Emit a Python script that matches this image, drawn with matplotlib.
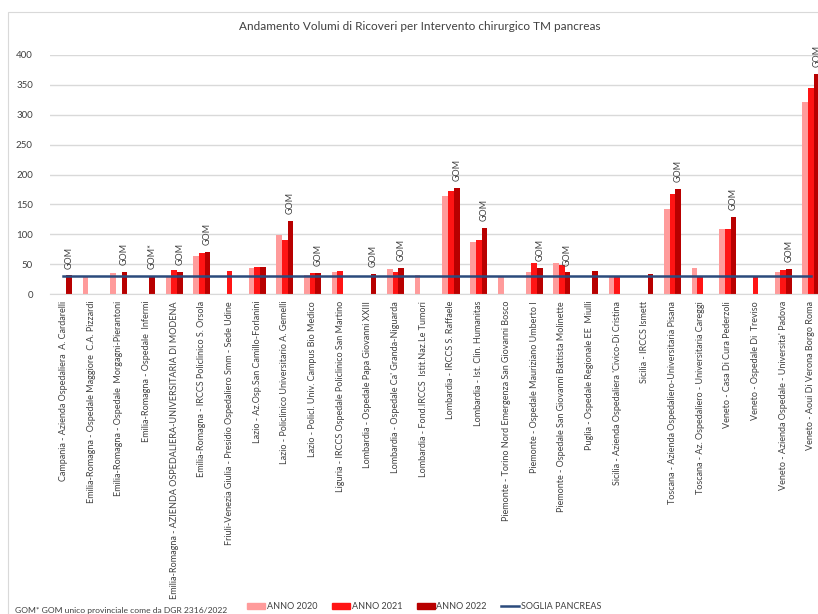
import matplotlib
matplotlib.use("Agg")
import matplotlib.pyplot as plt
import numpy as np
from matplotlib.patches import Rectangle
from matplotlib.lines import Line2D
from matplotlib.patches import Patch

plt.rcParams['font.family'] = ['Lato', 'DejaVu Sans']

title = "Andamento Volumi di Ricoveri per Intervento chirurgico TM pancreas"

categories = [
    "Campania - Azienda Ospedaliera  A. Cardarelli",
    "Emilia-Romagna - Ospedale Maggiore  C.A. Pizzardi",
    "Emilia-Romagna - Ospedale  Morgagni-Pierantoni",
    "Emilia-Romagna - Ospedale  Infermi",
    "Emilia-Romagna - AZIENDA OSPEDALIERA-UNIVERSITARIA DI MODENA",
    "Emilia-Romagna - IRCCS Policlinico S. Orsola",
    "Friuli-Venezia Giulia - Presidio Ospedaliero Smm - Sede Udine",
    "Lazio - Az.Osp.San Camillo-Forlanini",
    "Lazio - Policlinico Universitario A. Gemelli",
    "Lazio - Policl. Univ. Campus Bio Medico",
    "Liguria - IRCCS Ospedale Policlinico San Martino",
    "Lombardia - Ospedale Papa Giovanni XXIII",
    "Lombardia - Ospedale Ca' Granda-Niguarda",
    "Lombardia - Fond.IRCCS  Istit.Naz.Le Tumori",
    "Lombardia - IRCCS S. Raffaele",
    "Lombardia - Ist. Clin. Humanitas",
    "Piemonte - Torino Nord Emergenza San Giovanni Bosco",
    "Piemonte - Ospedale Mauriziano Umberto I",
    "Piemonte - Ospedale San Giovanni Battista Molinette",
    "Puglia - Ospedale Regionale EE  Miulli",
    "Sicilia - Azienda Ospedaliera 'Civico-Di Cristina",
    "Sicilia - IRCCS Ismett",
    "Toscana - Azienda Ospedaliero-Universitaria Pisana",
    "Toscana - Az. Ospedaliero - Universitaria Careggi",
    "Veneto - Casa Di Cura Pederzoli",
    "Veneto - Ospedale Di  Treviso",
    "Veneto - Azienda Ospedale - Universita' Padova",
    "Veneto - Aoui Di Verona Borgo Roma",
]

anno_2020 = [0, 30, 35, 0, 30, 64, 0, 43, 98, 32, 37, 0, 42, 32, 164, 87, 30, 36,
             52, 0, 30, 0, 143, 44, 108, 0, 37, 321]
anno_2021 = [0, 0, 0, 0, 41, 69, 39, 45, 91, 35, 38, 0, 37, 0, 173, 90, 0, 52,
             48, 0, 30, 0, 168, 30, 108, 30, 41, 345]
anno_2022 = [31, 0, 37, 30, 37, 71, 0, 45, 123, 35, 0, 34, 43, 0, 178, 111, 0, 43,
             36, 38, 0, 34, 175, 0, 129, 0, 42, 368]
soglia = 30

gom_labels = ["GOM", "", "GOM", "GOM*", "GOM", "GOM", "", "", "GOM", "GOM", "", "GOM",
              "GOM", "", "GOM", "GOM", "", "GOM", "GOM", "", "", "", "GOM", "",
              "GOM", "", "GOM", "GOM"]

series_names = ["ANNO 2020", "ANNO 2021", "ANNO 2022", "SOGLIA PANCREAS"]
footnote = "GOM* GOM unico provinciale come da DGR 2316/2022"
colors = ["#FF9B9B", "#FF1414", "#B80000"]
line_color = "#2B4A7C"
text_color = "#404040"

fig = plt.figure(figsize=(8.18, 6.14), dpi=100)
W, H = 818, 614

# outer chart frame
fig.patches.append(Rectangle((8 / W, -0.1), 1.2, 1 - 12 / H + 0.1, transform=fig.transFigure,
                             fill=False, edgecolor="#D9D9D9", linewidth=0.8))

ax_left, ax_right = 49.5, 824.8
ax_top, ax_bottom = 55, 294
ax = fig.add_axes([ax_left / W, 1 - ax_bottom / H, (ax_right - ax_left) / W, (ax_bottom - ax_top) / H])

x = np.arange(len(categories))
w = 0.205
for i, (vals, c) in enumerate(zip([anno_2020, anno_2021, anno_2022], colors)):
    ax.bar(x + (i - 1) * w, vals, width=w, color=c, zorder=2)

ax.plot(x, [soglia] * len(x), color=line_color, linewidth=1.8, zorder=3)

for xi, v, lab in zip(x, anno_2022, gom_labels):
    if lab:
        ax.annotate(lab, (xi + w, v), xytext=(0, 5), textcoords="offset points",
                    rotation=90, ha="center", va="bottom", fontsize=6.5,
                    color=text_color, annotation_clip=False)

ax.set_xlim(-0.5, len(categories) - 0.5)
ax.set_ylim(0, 400)
ax.set_yticks(np.arange(0, 401, 50))
ax.yaxis.grid(True, color="#D9D9D9", linewidth=1.0, zorder=0)
ax.set_axisbelow(True)
for s in ["top", "right", "left"]:
    ax.spines[s].set_visible(False)
ax.spines["bottom"].set_color("#D9D9D9")
ax.tick_params(axis="both", length=0, colors=text_color, labelsize=7)
ax.tick_params(axis="y", pad=12)
ax.set_xticks(x)
ax.set_xticklabels(categories, rotation=90, fontsize=6.5, color=text_color)
ax.tick_params(axis="x", pad=5)

fig.text(420 / W, 1 - 27 / H, title, ha="center", va="center", fontsize=8.5, color=text_color)

handles = [Patch(color=colors[0]), Patch(color=colors[1]), Patch(color=colors[2]),
           Line2D([0], [0], color=line_color, linewidth=1.8)]
leg = fig.legend(handles, series_names, loc="center left", bbox_to_anchor=(247 / W, 1 - 606.5 / H),
                 ncol=4, frameon=False, fontsize=6.5, handlelength=2.0, handleheight=0.65,
                 handletextpad=0.2, columnspacing=1.6, borderpad=0, borderaxespad=0,
                 labelcolor=text_color)

fig.text(15 / W, 1 - 611 / H, footnote,
         ha="left", va="center", fontsize=6.1, color=text_color)

fig.savefig("out.png", dpi=100)
